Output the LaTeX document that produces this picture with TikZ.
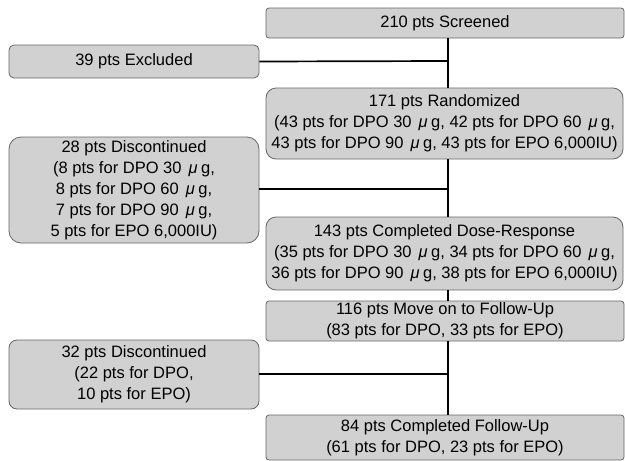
\documentclass[tikz,border=0pt]{standalone}
\usepackage{fontspec}
\setmainfont{Liberation Sans}
% dose unit: an italic mu set a little apart from the number and the g
\newcommand{\mug}{\hspace{7pt}{\itshape μ}\hspace{3.5pt}g}
\begin{document}
\begin{tikzpicture}[x=1pt,y=-1pt,
  box/.style={draw=black!60, line width=0.8pt, fill=black!18,
    inner sep=0pt, align=center,
    font=\fontsize{16.5}{21}\selectfont},
  wide/.style={box, minimum width=358pt},
  side/.style={box, minimum width=250pt},
  link/.style={line width=1.7pt, black}]
\useasboundingbox (0,0) rectangle (625,461);

% right-hand column
\node[wide, rounded corners=3pt, minimum height=30pt] (screen) at (445,23) {210 pts Screened};
\node[wide, rounded corners=10pt, minimum height=71pt, minimum width=357pt] (rand) at (444.5,123.5)
  {171 pts Randomized\\(43 pts for DPO 30\mug, 42 pts for DPO 60\mug,\\43 pts for DPO 90\mug, 43 pts for EPO 6,000IU)};
\node[wide, rounded corners=10pt, minimum height=73pt, minimum width=357pt] (dose) at (444.5,253.5)
  {143 pts Completed Dose-Response\\(35 pts for DPO 30\mug, 34 pts for DPO 60\mug,\\36 pts for DPO 90\mug, 38 pts for EPO 6,000IU)};
\node[wide, rounded corners=3pt, minimum height=40pt] (fu) at (445,321)
  {116 pts Move on to Follow-Up\\(83 pts for DPO, 33 pts for EPO)};
\node[wide, rounded corners=3pt, minimum height=45pt] (comp) at (445,437.5)
  {84 pts Completed Follow-Up\\(61 pts for DPO, 23 pts for EPO)};

% left-hand column
\node[side, rounded corners=5pt, minimum height=33pt] (excl) at (134,61.5) {39 pts Excluded};
\node[side, rounded corners=12pt, minimum height=106pt] (disc1) at (134,190)
  {28 pts Discontinued\\(8 pts for DPO 30\mug,\\8 pts for DPO 60\mug,\\7 pts for DPO 90\mug,\\5 pts for EPO 6,000IU)};
\node[side, rounded corners=8pt, minimum height=69pt] (disc2) at (134,374.5)
  {32 pts Discontinued\\(22 pts for DPO,\\10 pts for EPO)};

% junctions on the main trunk
\coordinate (j1) at (448,61);
\coordinate (j2) at (448,189);
\coordinate (j3) at (448,374);

% connectors
\draw[link] (screen.south -| j1) -- (rand.north -| j1);
\draw[link] (excl.east) -- (j1);
\draw[link] (rand.south -| j2) -- (dose.north -| j2);
\draw[link] (disc1.east |- j2) -- (j2);
\draw[link] (dose.south -| j2) -- (fu.north -| j2);
\draw[link] (fu.south -| j3) -- (comp.north -| j3);
\draw[link] (disc2.east |- j3) -- (j3);
\end{tikzpicture}
\end{document}
